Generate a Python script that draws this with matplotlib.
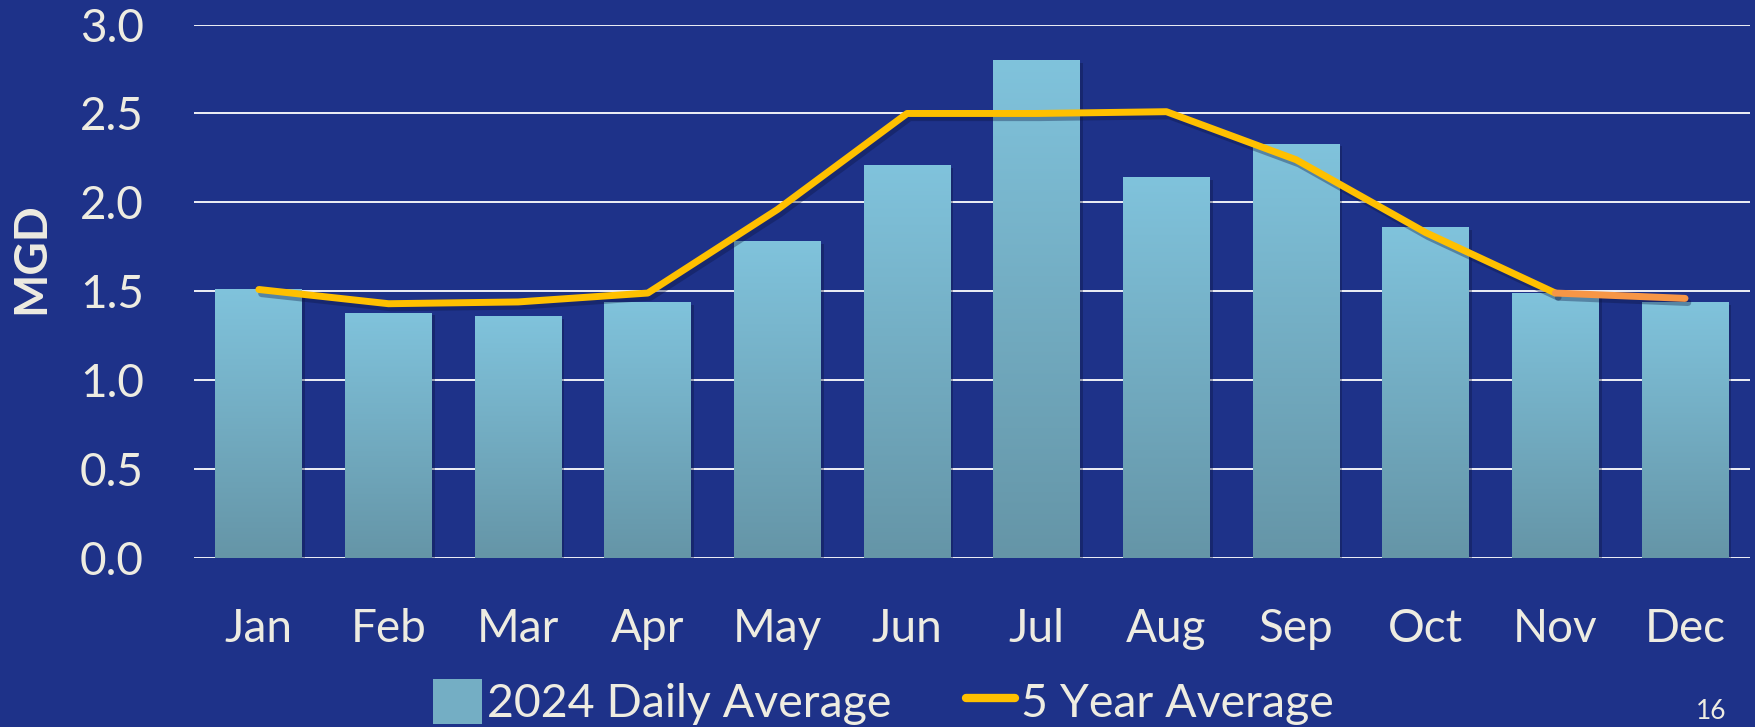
import numpy as np
import matplotlib
matplotlib.use("Agg")
import matplotlib.pyplot as plt
from matplotlib.patches import Patch
from matplotlib.lines import Line2D
import matplotlib.patheffects as pe
from matplotlib.colors import LinearSegmentedColormap

months = ["Jan", "Feb", "Mar", "Apr", "May", "Jun", "Jul", "Aug", "Sep", "Oct", "Nov", "Dec"]
daily_2024 = [1.51, 1.38, 1.36, 1.44, 1.78, 2.21, 2.80, 2.14, 2.33, 1.86, 1.49, 1.44]
five_year = [1.51, 1.43, 1.44, 1.49, 1.96, 2.50, 2.50, 2.51, 2.24, 1.83, 1.49, 1.46]
yticks = [0.0, 0.5, 1.0, 1.5, 2.0, 2.5, 3.0]

BG = "#1E3289"
TXT = "#EEECE1"
BAR_TOP = "#80C3DC"
BAR_BOT = "#6595A7"
GOLD = "#FFC000"
ORANGE = "#F79646"
FONT = "Lato"

fig = plt.figure(figsize=(17.56, 7.27), dpi=100, facecolor=BG)
ax = fig.add_axes([0.1105, 0.2325, 0.886, 0.7337], facecolor=BG)

x = np.arange(len(months))
w = 0.67
bars = ax.bar(x, daily_2024, width=w, color=BAR_TOP, zorder=2,
              path_effects=[pe.SimplePatchShadow(offset=(2, -2), alpha=0.35, shadow_rgbFace="#0a1440"), pe.Normal()])

cmap = LinearSegmentedColormap.from_list("g", [BAR_BOT, BAR_TOP])
grad = np.linspace(0, 1, 256).reshape(-1, 1)
for b in bars:
    x0, y0 = b.get_x(), b.get_y()
    im = ax.imshow(grad, cmap=cmap, origin="lower", aspect="auto",
                   extent=[x0, x0 + b.get_width(), y0, y0 + b.get_height()], zorder=2.5)
    im.set_clip_path(b)

shadow = [pe.SimpleLineShadow(offset=(2, -3), alpha=0.35, shadow_color="#0a1440"), pe.Normal()]
ax.plot(x[:11], five_year[:11], color=GOLD, lw=5, solid_capstyle="round",
        solid_joinstyle="round", zorder=4, path_effects=shadow)
ax.plot(x[10:], five_year[10:], color=ORANGE, lw=5, solid_capstyle="round",
        solid_joinstyle="round", zorder=4, path_effects=shadow)

ax.set_xlim(-0.5, len(months) - 0.5)
ax.set_ylim(0, 3.0)
ax.set_yticks(yticks)
ax.set_yticklabels([f"{v:.1f}" for v in yticks])
ax.set_xticks(x)
ax.set_xticklabels(months)
ax.yaxis.grid(True, color="white", lw=1.3, zorder=0)
ax.set_axisbelow(True)
for s in ax.spines.values():
    s.set_visible(False)
ax.tick_params(axis="both", length=0, colors=TXT, labelsize=33)
ax.tick_params(axis="x", pad=36)
ax.tick_params(axis="y", pad=36)
for lab in ax.get_xticklabels() + ax.get_yticklabels():
    lab.set_fontfamily(FONT)
    lab.set_color(TXT)

fig.text(0.0177, 0.645, "MGD", rotation=90, ha="center", va="center", color=TXT,
         fontsize=33, fontweight="bold", family=FONT)

handles = [Patch(facecolor="#74AEC4", edgecolor="none"),
           Line2D([0], [0], color=GOLD, lw=6, solid_capstyle="round")]
leg = fig.legend(handles, ["2024 Daily Average", "5 Year Average"], loc="center",
                 bbox_to_anchor=(0.503, 0.034), ncol=2, frameon=False,
                 handlelength=1.05, handleheight=1.1, handletextpad=0.12, columnspacing=1.6,
                 prop={"family": FONT, "size": 33.5})
for t in leg.get_texts():
    t.set_color(TXT)

fig.text(0.9745, 0.021, "16", ha="center", va="center", color=TXT, fontsize=19, family=FONT)

fig.savefig("out.png", dpi=100, facecolor=BG)
